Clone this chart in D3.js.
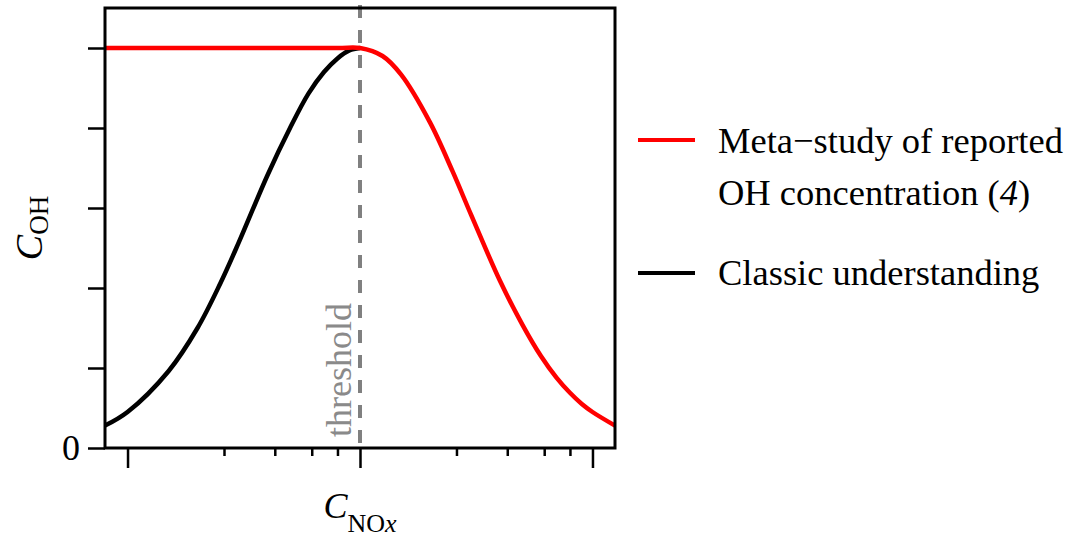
<!DOCTYPE html>
<html>
<head>
<meta charset="utf-8">
<script src="https://cdn.jsdelivr.net/npm/d3@7"></script>
<style>
  html, body { margin: 0; padding: 0; background: #fff; }
  svg { display: block; font-family: "Liberation Serif", "Times New Roman", serif; }
</style>
</head>
<body>
<svg id="chart" width="1078" height="538"></svg>
<script>
// NOx concentration (log axis) and OH concentration (arbitrary units)
const xDomain = [0.8, 125];
const yDomain = [0, 5.5];
const thresholdX = 10;

// Classic understanding: OH rises with NOx up to the threshold
const classicX = [0.8, 1, 1.5, 2, 2.5, 3, 4, 5, 6, 7, 8, 9, 10];
const classicY = [0.28, 0.45, 0.96, 1.5, 2.05, 2.56, 3.41, 4.0, 4.43, 4.7, 4.87, 4.97, 5.0];

// Meta-study: flat below the threshold, falling above it
const metaX = [0.8, 8, 10, 12.5, 15, 20, 25, 30, 40, 50, 60, 70, 80, 90, 100, 125];
const metaY = [5.0, 5.0, 5.0, 4.9, 4.67, 4.07, 3.46, 2.92, 2.09, 1.54, 1.15, 0.88, 0.69, 0.55, 0.45, 0.28];

const xMajorTicks = [1, 10, 100];
const xMinorTicks = [2.6, 4.3, 6.2, 8.0, 26, 43, 62, 80];
const yTicks = [0, 1, 2, 3, 4, 5];
const yTickLabels = ["0", "", "", "", "", ""];

const legendItems = [
  { color: "#ff0000", lines: ["Meta\u2212study of reported", "OH concentration (4)"] },
  { color: "#000000", lines: ["Classic understanding"] }
];

const svg = d3.select("#chart");
const plotL = 105, plotR = 615, plotT = 8, plotB = 448;

const x = d3.scaleLog().domain(xDomain).range([plotL, plotR]);
const y = d3.scaleLinear().domain(yDomain).range([plotB, plotT]);

// threshold marker
svg.append("line")
  .attr("x1", x(thresholdX)).attr("x2", x(thresholdX))
  .attr("y1", plotT - 3).attr("y2", plotB)
  .attr("stroke", "#808080").attr("stroke-width", 4)
  .attr("stroke-dasharray", "13,12");

svg.append("text")
  .attr("transform", `translate(${x(thresholdX) - 9},${plotB - 11}) rotate(-90)`)
  .attr("font-size", 36).attr("fill", "#8a8a8a")
  .text("threshold");

const line = d3.line()
  .x(d => x(d[0])).y(d => y(d[1]))
  .curve(d3.curveCatmullRom.alpha(0.5));

svg.append("path")
  .datum(d3.zip(classicX, classicY))
  .attr("d", line)
  .attr("fill", "none").attr("stroke", "#000").attr("stroke-width", 4.5);

svg.append("path")
  .datum(d3.zip(metaX, metaY))
  .attr("d", line)
  .attr("fill", "none").attr("stroke", "#ff0000").attr("stroke-width", 4.5);

// axes
const yAxis = d3.axisLeft(y).tickValues(yTicks)
  .tickFormat((d, i) => yTickLabels[i]).tickSize(17).tickPadding(8);
const gy = svg.append("g").attr("transform", `translate(${plotL},0)`).call(yAxis);

const gxMaj = svg.append("g").attr("transform", `translate(0,${plotB})`)
  .call(d3.axisBottom(x).tickValues(xMajorTicks).tickFormat("").tickSize(20));
const gxMin = svg.append("g").attr("transform", `translate(0,${plotB})`)
  .call(d3.axisBottom(x).tickValues(xMinorTicks).tickFormat("").tickSize(8));

[gy, gxMaj, gxMin].forEach(g => {
  g.select(".domain").remove();
  g.selectAll(".tick line").attr("stroke", "#000").attr("stroke-width", 2.5);
});
gy.selectAll(".tick text")
  .attr("font-size", 36).attr("fill", "#000")
  .attr("font-family", "Liberation Serif, Times New Roman, serif");

// frame
svg.append("rect")
  .attr("x", plotL).attr("y", plotT)
  .attr("width", plotR - plotL).attr("height", plotB - plotT)
  .attr("fill", "none").attr("stroke", "#000").attr("stroke-width", 3);

// axis titles
const xt = svg.append("text")
  .attr("x", x(thresholdX)).attr("y", 518)
  .attr("text-anchor", "middle").attr("font-size", 36);
xt.append("tspan").attr("font-style", "italic").text("C");
xt.append("tspan").attr("font-size", 26).attr("dy", 14).text("NO");
xt.append("tspan").attr("font-size", 26).attr("font-style", "italic").text("x");

const yt = svg.append("text")
  .attr("transform", `translate(42,${y(2.75)}) rotate(-90)`)
  .attr("text-anchor", "middle").attr("font-size", 38);
yt.append("tspan").attr("font-style", "italic").text("C");
yt.append("tspan").attr("font-size", 27).attr("dy", 6).text("OH");

// legend
const legendRows = [
  { item: 0, lineY: 140, baselines: [153, 205] },
  { item: 1, lineY: 273, baselines: [285] }
];
legendRows.forEach(r => {
  const it = legendItems[r.item];
  svg.append("line")
    .attr("x1", 638).attr("x2", 695)
    .attr("y1", r.lineY).attr("y2", r.lineY)
    .attr("stroke", it.color).attr("stroke-width", 4);
  it.lines.forEach((t, i) => {
    const tx = svg.append("text")
      .attr("x", 718).attr("y", r.baselines[i])
      .attr("font-size", 36.5).attr("fill", "#000");
    const m = t.match(/^(.*\()(\d)(\).*)$/);
    if (m) {
      tx.append("tspan").text(m[1]);
      tx.append("tspan").attr("font-style", "italic").text(m[2]);
      tx.append("tspan").text(m[3]);
    } else {
      tx.text(t);
    }
  });
});
</script>
</body>
</html>
